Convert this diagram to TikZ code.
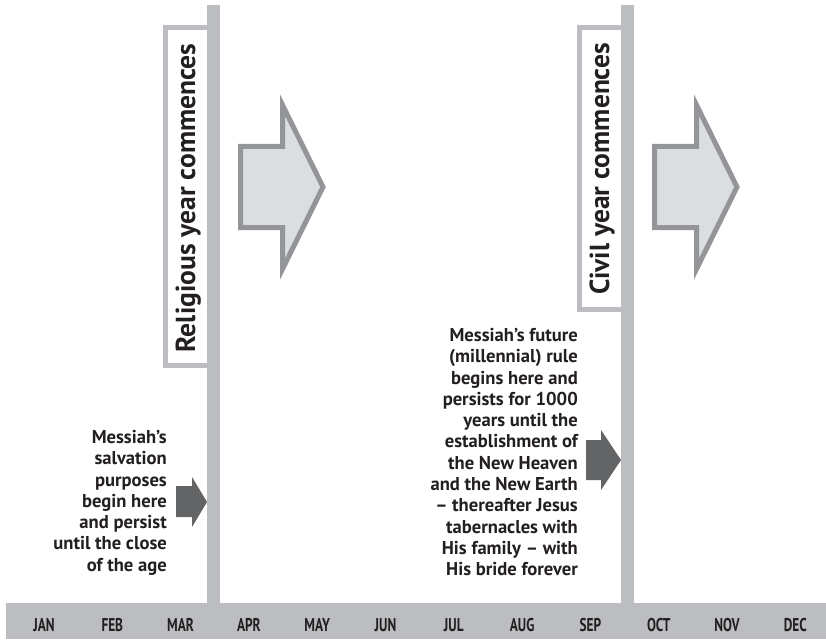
\documentclass[tikz,border=0pt]{standalone}
\usepackage{fontspec}
\setmainfont{PT Sans}
\newfontfamily\condfont[FakeStretch=0.72]{PT Sans}
\definecolor{bargray}{HTML}{BCBDC0}
\definecolor{arrowfill}{HTML}{DCDDDE}
\definecolor{arrowline}{HTML}{939598}
\definecolor{darkarrow}{HTML}{636466}
\definecolor{ink}{HTML}{231F20}
\begin{document}
\begin{tikzpicture}[x=1pt,y=-1pt,
  month/.style={font=\condfont\bfseries\fontsize{18.5}{20}\selectfont, text=ink, inner sep=0pt},
  vlabel/.style={rotate=90, anchor=base, inner sep=0pt, text=ink, font=\bfseries\fontsize{27.5}{30}\selectfont},
  sidetext/.style={align=right, anchor=north east, inner sep=0pt, text=ink, font=\bfseries\fontsize{18.6}{21.3}\selectfont},
  labelbox/.style={draw=bargray, line width=5pt, fill=white},
  bigarrow/.style={fill=arrowfill, draw=arrowline, line width=5pt, line join=miter},
  smallarrow/.style={fill=darkarrow}]
\useasboundingbox (0,0) rectangle (826,639);
\fill[white] (0,0) rectangle (826,639);
% month bar
\node (monthbar) [fill=bargray, inner sep=0pt, minimum width=820pt, minimum height=36pt, anchor=north west] at (6,603) {};
\foreach \m [count=\i from 0] in {JAN,FEB,MAR,APR,MAY,JUN,JUL,AUG,SEP,OCT,NOV,DEC}
  \node[month] (m\i) at (44+68.3*\i,625) {\m};
% label boxes
\draw[labelbox] (165.5,27.5) rectangle (209.5,365.5);
\draw[labelbox] (579.2,28) rectangle (623.5,309.2);
% vertical bars
\fill[bargray] (207,5) rectangle (220,603);
\fill[bargray] (621,5) rectangle (634,603);
% rotated labels
\node[vlabel] (religious) at (195,198) {Religious year commences};
\node[vlabel] (civil) at (609,169) {Civil year commences};
% big arrows
\draw[bigarrow] (240.5,146.5) -- (282.5,146.5) -- (282.5,105) -- (323,187) -- (282.5,269) -- (282.5,227.5) -- (240.5,227.5) -- cycle;
\draw[bigarrow] (654.5,146.5) -- (696.5,146.5) -- (696.5,105) -- (737,187) -- (696.5,269) -- (696.5,227.5) -- (654.5,227.5) -- cycle;
% small arrows
\fill[smallarrow] (176,486) -- (192,486) -- (192,477) -- (207,502) -- (192,527) -- (192,517) -- (176,517) -- cycle;
\fill[smallarrow] (586,440) -- (601,440) -- (601,430) -- (621,460) -- (601,490) -- (601,480) -- (586,480) -- cycle;
% side texts
\node[sidetext] (salvation) at (167,430) {Messiah’s\\salvation\\purposes\\begin here\\and persist\\until the close\\of the age};
\node[sidetext] (rule) at (578,328) {Messiah’s future\\(millennial) rule\\begins here and\\persists for 1000\\years until the\\establishment of\\the New Heaven\\and the New Earth\\– thereafter Jesus\\tabernacles with\\His family – with\\His bride forever};
\end{tikzpicture}
\end{document}
